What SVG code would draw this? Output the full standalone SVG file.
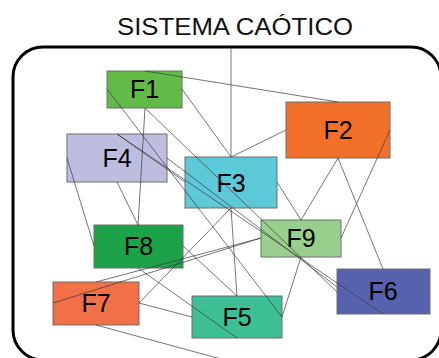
<svg xmlns="http://www.w3.org/2000/svg" width="439" height="358" viewBox="0 0 439 358">
<style>
.box{stroke:#6e6e6e;stroke-width:1}
.lbl{font-family:"Liberation Sans",Arial,sans-serif;font-size:25px;fill:#000;text-anchor:middle}
.ln{stroke:#3a3a3a;stroke-width:0.7;fill:none}
</style>
<rect width="439" height="358" fill="#fff"/>
<text x="235" y="35" font-family="Liberation Sans, Arial, sans-serif" font-size="24" fill="#111" text-anchor="middle" textLength="236" lengthAdjust="spacingAndGlyphs">SISTEMA CAÓTICO</text>
<rect x="13" y="47" width="428" height="313" rx="30" ry="30" fill="none" stroke="#000" stroke-width="3"/>
<g id="F1"><rect class="box" x="107" y="71" width="75" height="37" fill="#62bb46"/><text class="lbl" x="144.5" y="98">F1</text></g>
<g id="F2"><rect class="box" x="286" y="102" width="104" height="56" fill="#f3702b"/><text class="lbl" x="338" y="139">F2</text></g>
<g id="F4"><rect class="box" x="67" y="134" width="100" height="48" fill="#bdbde0"/><text class="lbl" x="117" y="167">F4</text></g>
<g id="F3"><rect class="box" x="185" y="157" width="92" height="51" fill="#5cc8d8"/><text class="lbl" x="231" y="192">F3</text></g>
<g id="F8"><rect class="box" x="94" y="225" width="89" height="43" fill="#1ca34a"/><text class="lbl" x="138.5" y="255">F8</text></g>
<g id="F9"><rect class="box" x="261" y="220" width="80" height="37" fill="#98cf8c"/><text class="lbl" x="301" y="247">F9</text></g>
<g id="F7"><rect class="box" x="53" y="282" width="86" height="43" fill="#f27048"/><text class="lbl" x="96" y="312">F7</text></g>
<g id="F5"><rect class="box" x="192" y="296" width="90" height="42" fill="#3cbf95"/><text class="lbl" x="237" y="326">F5</text></g>
<g id="F6"><rect class="box" x="337" y="269" width="93" height="45" fill="#5662ad"/><text class="lbl" x="383" y="300">F6</text></g>
<g id="connectors">
<line class="ln" x1="145" y1="71" x2="338" y2="102"/>
<line class="ln" x1="231" y1="47" x2="231" y2="157"/>
<line class="ln" x1="286" y1="130" x2="231" y2="157"/>
<line class="ln" x1="182" y1="89" x2="231" y2="157"/>
<line class="ln" x1="107" y1="89" x2="282" y2="317"/>
<line class="ln" x1="145" y1="108" x2="138" y2="225"/>
<line class="ln" x1="145" y1="108" x2="337" y2="292"/>
<line class="ln" x1="117" y1="134" x2="185" y2="182"/>
<line class="ln" x1="117" y1="134" x2="383" y2="314"/>
<line class="ln" x1="167" y1="158" x2="337" y2="287"/>
<line class="ln" x1="117" y1="182" x2="138" y2="225"/>
<line class="ln" x1="67" y1="158" x2="94" y2="246"/>
<line class="ln" x1="277" y1="182" x2="301" y2="220"/>
<line class="ln" x1="338" y1="158" x2="301" y2="220"/>
<line class="ln" x1="338" y1="158" x2="383" y2="269"/>
<line class="ln" x1="390" y1="130" x2="341" y2="238"/>
<line class="ln" x1="301" y1="257" x2="282" y2="317"/>
<line class="ln" x1="53" y1="303" x2="261" y2="238"/>
<line class="ln" x1="96" y1="282" x2="261" y2="238"/>
<line class="ln" x1="139" y1="303" x2="231" y2="208"/>
<line class="ln" x1="139" y1="303" x2="192" y2="317"/>
<line class="ln" x1="96" y1="325" x2="232" y2="362"/>
<line class="ln" x1="138" y1="268" x2="237" y2="338"/>
<line class="ln" x1="231" y1="208" x2="237" y2="296"/>
<line class="ln" x1="183" y1="246" x2="237" y2="296"/>
</g>
</svg>
